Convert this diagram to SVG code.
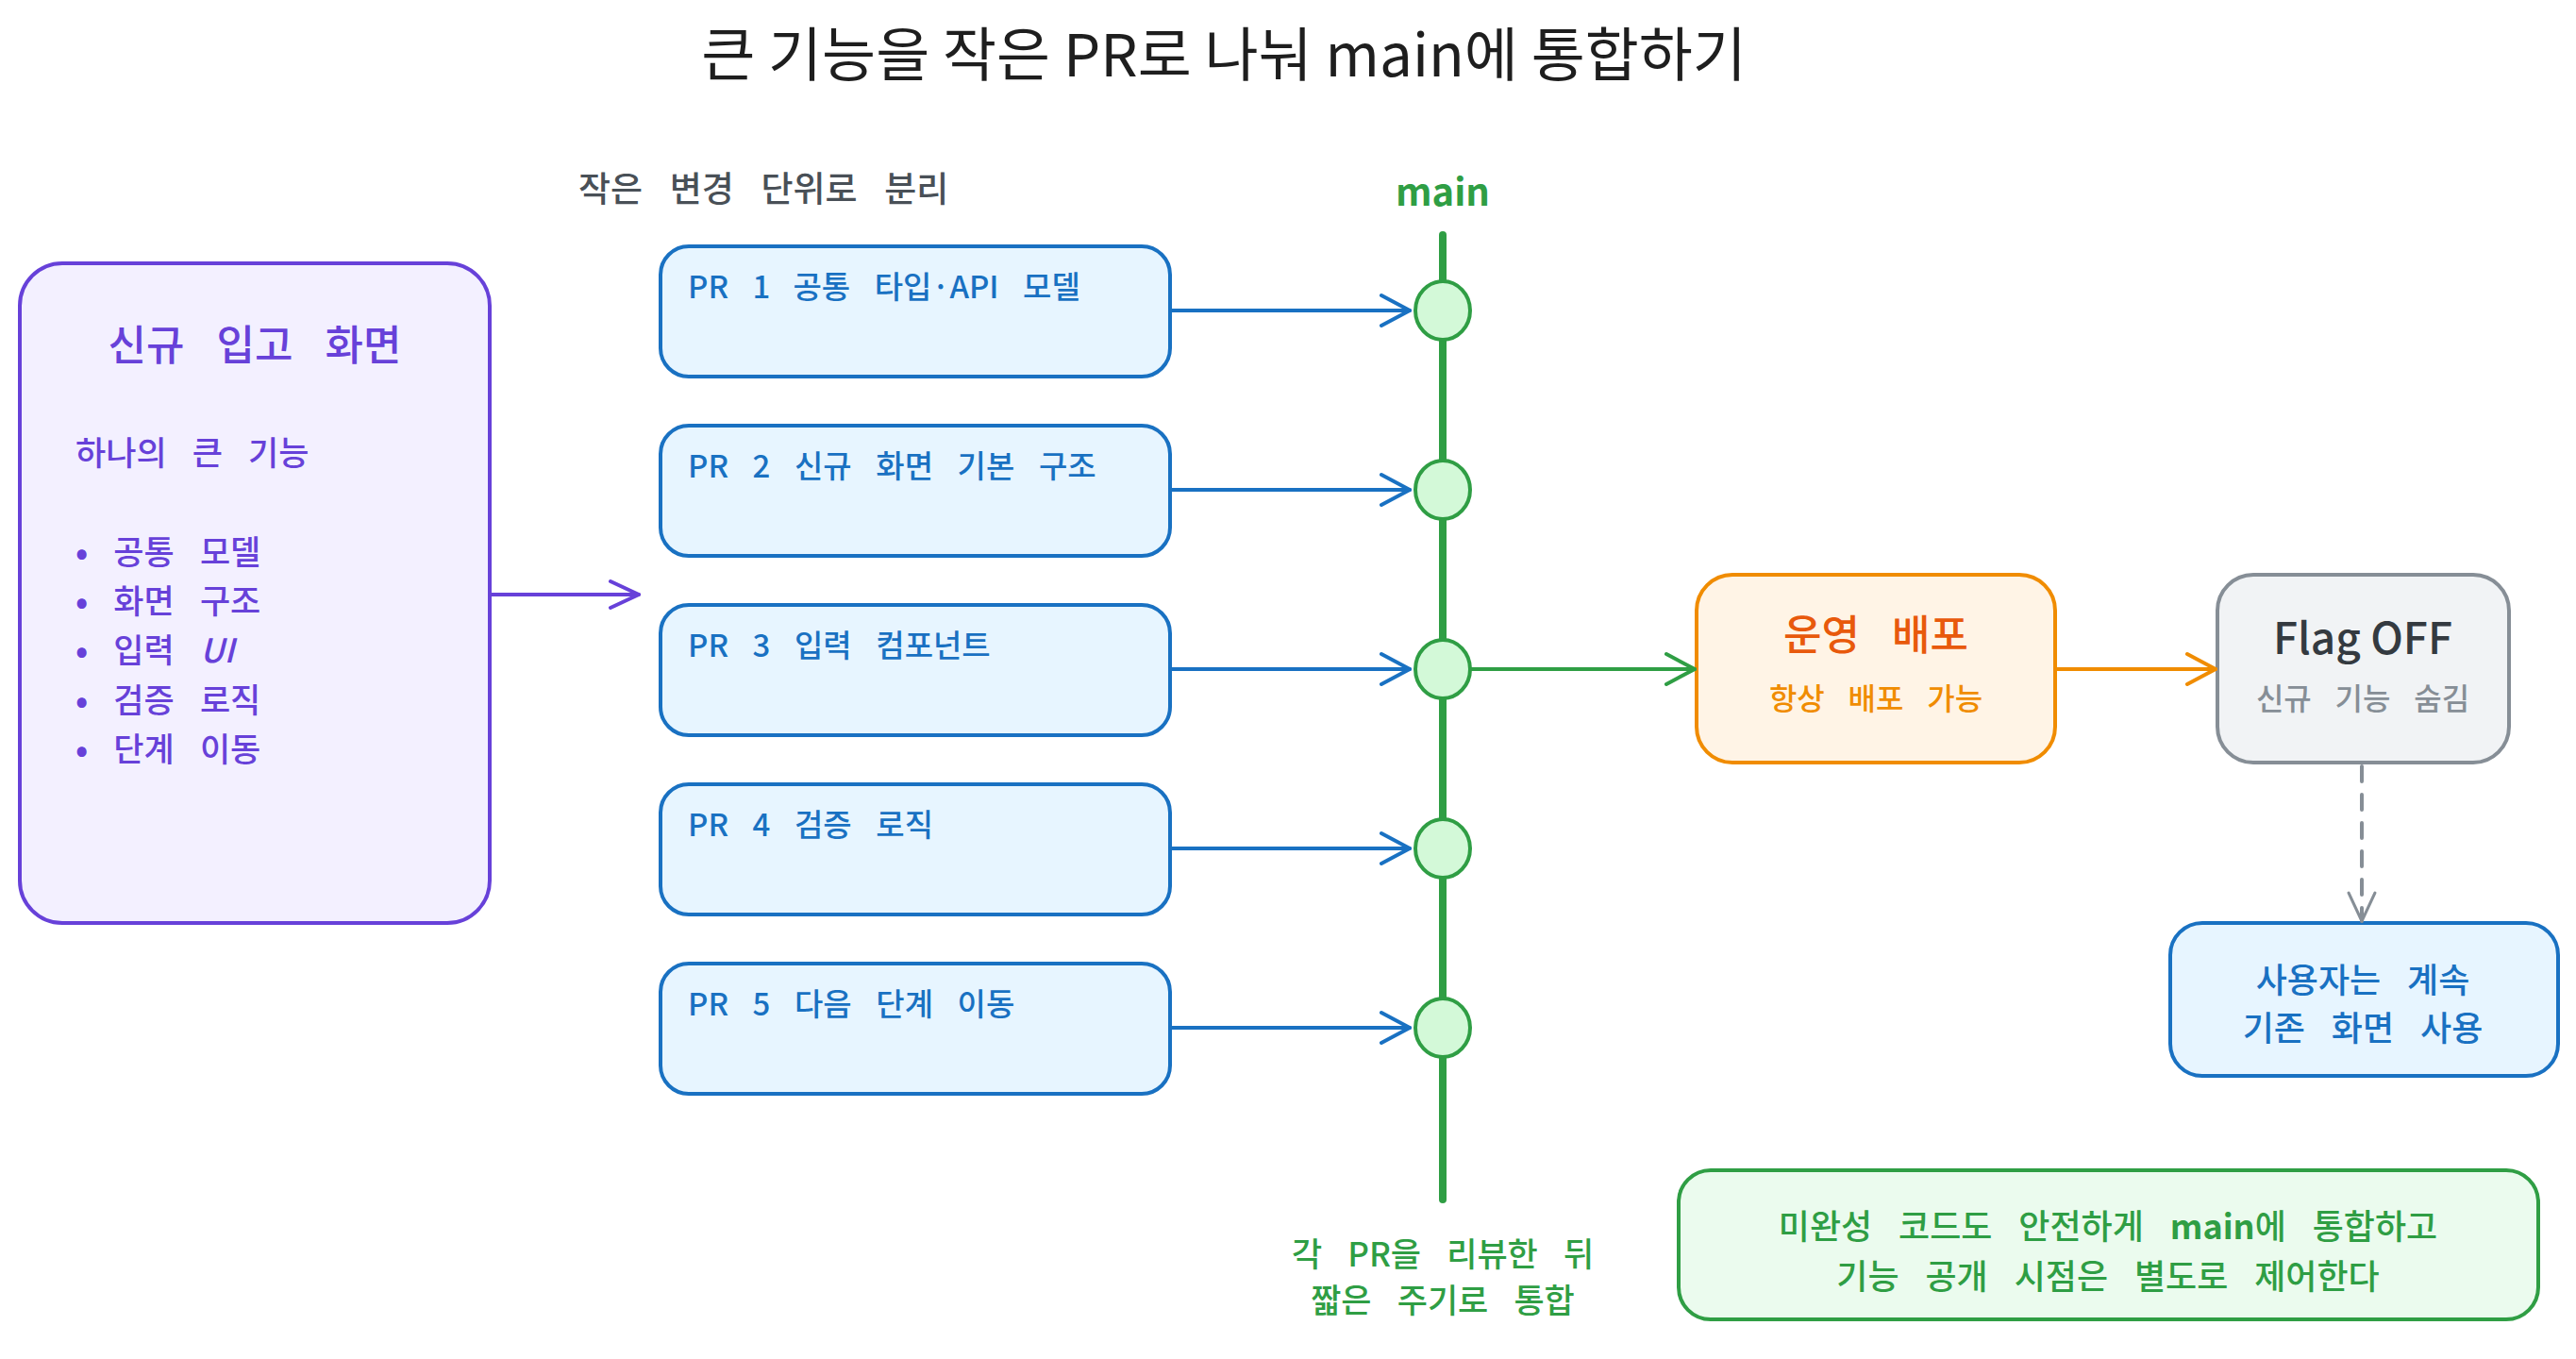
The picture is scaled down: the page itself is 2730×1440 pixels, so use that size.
<svg xmlns="http://www.w3.org/2000/svg" width="2730" height="1440" viewBox="0 0 2730 1440">
<defs>
<style>
.t{font-family:"Noto Sans CJK KR","Noto Sans",sans-serif;}
.h{font-family:"Noto Sans CJK KR","Noto Sans",sans-serif;word-spacing:0.55em;font-weight:500;}
.box{stroke-width:4;stroke-linejoin:round;}
.purple{fill:#f3f0ff;stroke:#6741d9;}
.blue{fill:#e7f5ff;stroke:#1971c2;}
.orange{fill:#fff4e6;stroke:#f08c00;}
.grey{fill:#f1f3f5;stroke:#868e96;}
.green{fill:#ebfbee;stroke:#2f9e44;}
.conn{fill:none;stroke-width:4;stroke-linecap:round;}
.commit{fill:#d3f9d8;stroke:#2f9e44;stroke-width:4;}
</style>
<marker id="aBlue" markerUnits="userSpaceOnUse" markerWidth="40" markerHeight="40" refX="32" refY="20" orient="auto"><path d="M2,4 L32,20 L2,36" fill="none" stroke="#1971c2" stroke-width="4" stroke-linecap="round" stroke-linejoin="round"/></marker>
<marker id="aPurple" markerUnits="userSpaceOnUse" markerWidth="40" markerHeight="40" refX="32" refY="20" orient="auto"><path d="M2,6 L32,20 L2,34" fill="none" stroke="#6741d9" stroke-width="4" stroke-linecap="round" stroke-linejoin="round"/></marker>
<marker id="aGreen" markerUnits="userSpaceOnUse" markerWidth="40" markerHeight="40" refX="32" refY="20" orient="auto"><path d="M2,4 L32,20 L2,36" fill="none" stroke="#2f9e44" stroke-width="4" stroke-linecap="round" stroke-linejoin="round"/></marker>
<marker id="aOrange" markerUnits="userSpaceOnUse" markerWidth="40" markerHeight="40" refX="32" refY="20" orient="auto"><path d="M2,4 L32,20 L2,36" fill="none" stroke="#f08c00" stroke-width="4" stroke-linecap="round" stroke-linejoin="round"/></marker>
<marker id="aGrey" markerUnits="userSpaceOnUse" markerWidth="40" markerHeight="40" refX="32" refY="20" orient="auto"><path d="M2,6 L32,20 L2,34" fill="none" stroke="#868e96" stroke-width="3" stroke-linecap="round" stroke-linejoin="round"/></marker>
</defs>
<rect width="2730" height="1440" fill="#ffffff"/>

<text class="t" x="1297" y="81" font-size="62" text-anchor="middle" fill="#1e1e1e">큰 기능을 작은 PR로 나눠 main에 통합하기</text>

<g id="feature">
<rect class="box purple" x="21" y="279" width="498" height="699" rx="45"/>
<text class="h" x="270" y="382" font-size="44" text-anchor="middle" fill="#6741d9">신규 입고 화면</text>
<text class="h" x="80" y="493" font-size="35" fill="#6741d9">하나의 큰 기능</text>
<text class="h" x="80" y="598" font-size="35" fill="#6741d9"><tspan font-weight="700">•</tspan> 공통 모델</text>
<text class="h" x="80" y="650" font-size="35" fill="#6741d9"><tspan font-weight="700">•</tspan> 화면 구조</text>
<text class="h" x="80" y="702" font-size="35" fill="#6741d9"><tspan font-weight="700">•</tspan> 입력 <tspan font-style="italic">UI</tspan></text>
<text class="h" x="80" y="755" font-size="35" fill="#6741d9"><tspan font-weight="700">•</tspan> 검증 로직</text>
<text class="h" x="80" y="807" font-size="35" fill="#6741d9"><tspan font-weight="700">•</tspan> 단계 이동</text>
</g>

<g id="split-label">
<text class="h" x="613" y="214" font-size="37" fill="#495057">작은 변경 단위로 분리</text>
</g>

<g id="pr1">
<rect class="box blue" x="700" y="261" width="540" height="138" rx="30"/>
<text class="h" x="729" y="316" font-size="33" fill="#1971c2">PR 1<tspan dx="24">공통 타입·API 모델</tspan></text>
</g>
<g id="pr2">
<rect class="box blue" x="700" y="451" width="540" height="138" rx="30"/>
<text class="h" x="729" y="506" font-size="33" fill="#1971c2">PR 2 신규 화면 기본 구조</text>
</g>
<g id="pr3">
<rect class="box blue" x="700" y="641" width="540" height="138" rx="30"/>
<text class="h" x="729" y="696" font-size="33" fill="#1971c2">PR 3 입력 컴포넌트</text>
</g>
<g id="pr4">
<rect class="box blue" x="700" y="831" width="540" height="138" rx="30"/>
<text class="h" x="729" y="886" font-size="33" fill="#1971c2">PR 4 검증 로직</text>
</g>
<g id="pr5">
<rect class="box blue" x="700" y="1021" width="540" height="138" rx="30"/>
<text class="h" x="729" y="1076" font-size="33" fill="#1971c2">PR 5 다음 단계 이동</text>
</g>

<g id="main-branch">
<text class="t" x="1529" y="218" font-size="40" font-weight="700" text-anchor="middle" fill="#2f9e44">main</text>
<line x1="1529" y1="249" x2="1529" y2="1271" stroke="#2f9e44" stroke-width="8" stroke-linecap="round"/>
<ellipse class="commit" cx="1529" cy="329" rx="29" ry="31"/>
<ellipse class="commit" cx="1529" cy="519" rx="29" ry="31"/>
<ellipse class="commit" cx="1529" cy="709" rx="29" ry="31"/>
<ellipse class="commit" cx="1529" cy="899" rx="29" ry="31"/>
<ellipse class="commit" cx="1529" cy="1089" rx="29" ry="31"/>
<text class="h" x="1529" y="1342" font-size="35" text-anchor="middle" fill="#2f9e44">각 PR을 리뷰한 뒤</text>
<text class="h" x="1529" y="1391" font-size="35" text-anchor="middle" fill="#2f9e44">짧은 주기로 통합</text>
</g>

<g id="deploy">
<rect class="box orange" x="1798" y="609" width="380" height="199" rx="38"/>
<text class="h" x="1988" y="689" font-size="44" text-anchor="middle" fill="#e8590c">운영 배포</text>
<text class="h" x="1988" y="752" font-size="32" text-anchor="middle" fill="#f08c00">항상 배포 가능</text>
</g>

<g id="flag">
<rect class="box grey" x="2350" y="609" width="309" height="199" rx="38"/>
<text class="t" x="2504" y="693" font-size="46" font-weight="500" text-anchor="middle" fill="#343a40">Flag OFF</text>
<text class="h" x="2504" y="752" font-size="32" text-anchor="middle" fill="#868e96">신규 기능 숨김</text>
</g>

<g id="users">
<rect class="box blue" x="2300" y="978" width="411" height="162" rx="34"/>
<text class="h" x="2504" y="1052" font-size="36" text-anchor="middle" fill="#1971c2">사용자는 계속</text>
<text class="h" x="2504" y="1103" font-size="36" text-anchor="middle" fill="#1971c2">기존 화면 사용</text>
</g>

<g id="note">
<rect class="box green" x="1779" y="1240" width="911" height="158" rx="34"/>
<text class="h" x="2234" y="1313" font-size="36" text-anchor="middle" fill="#2f9e44">미완성 코드도 안전하게 <tspan font-weight="700">main</tspan>에 통합하고</text>
<text class="h" x="2234" y="1366" font-size="36" text-anchor="middle" fill="#2f9e44">기능 공개 시점은 별도로 제어한다</text>
</g>

<g id="connectors">
<line class="conn" x1="519" y1="630" x2="677" y2="630" stroke="#6741d9" marker-end="url(#aPurple)"/>
<line class="conn" x1="1240" y1="329" x2="1494" y2="329" stroke="#1971c2" marker-end="url(#aBlue)"/>
<line class="conn" x1="1240" y1="519" x2="1494" y2="519" stroke="#1971c2" marker-end="url(#aBlue)"/>
<line class="conn" x1="1240" y1="709" x2="1494" y2="709" stroke="#1971c2" marker-end="url(#aBlue)"/>
<line class="conn" x1="1240" y1="899" x2="1494" y2="899" stroke="#1971c2" marker-end="url(#aBlue)"/>
<line class="conn" x1="1240" y1="1089" x2="1494" y2="1089" stroke="#1971c2" marker-end="url(#aBlue)"/>
<line class="conn" x1="1559" y1="709" x2="1796" y2="709" stroke="#2f9e44" marker-end="url(#aGreen)"/>
<line class="conn" x1="2178" y1="709" x2="2348" y2="709" stroke="#f08c00" marker-end="url(#aOrange)"/>
<line class="conn" x1="2503" y1="812" x2="2503" y2="976" stroke="#868e96" stroke-width="3" stroke-dasharray="16 14" marker-end="url(#aGrey)"/>
</g>
</svg>
